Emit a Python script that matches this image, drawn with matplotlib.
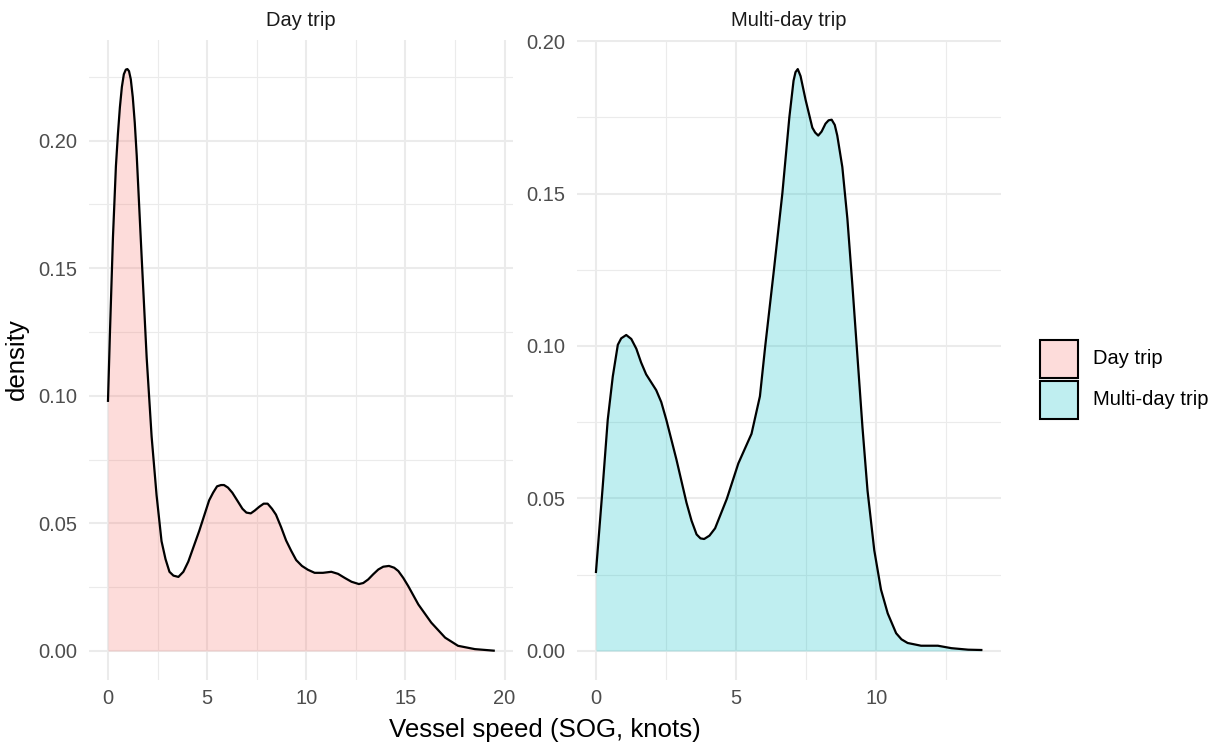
import matplotlib
matplotlib.use("Agg")
import matplotlib.pyplot as plt
from matplotlib.patches import Rectangle

plt.rcParams['font.family'] = ['Liberation Sans', 'DejaVu Sans']

# Data: density curves
day_x = [0, 0.1, 0.25, 0.4, 0.5, 0.6, 0.7, 0.8, 0.9, 0.98, 1.06, 1.15, 1.25, 1.35,
         1.45, 1.7, 1.95, 2.2, 2.45, 2.7, 2.9, 3.1, 3.3, 3.55, 3.8, 4.05, 4.6,
         5.1, 5.3, 5.5, 5.7, 5.85, 6.05, 6.27, 6.53, 6.78, 6.98, 7.2, 7.4, 7.63,
         7.85, 8.05, 8.27, 8.47, 8.73, 8.98, 9.24, 9.49, 9.78, 10.08, 10.42,
         10.84, 11.26, 11.6, 11.94, 12.28, 12.65, 12.87, 13.12, 13.37, 13.63,
         13.88, 14.17, 14.43, 14.64, 14.89, 15.14, 15.65, 16.3, 17.0, 17.65,
         18.5, 19.45]
day_y = [0.098, 0.125, 0.162, 0.190, 0.2025, 0.213, 0.221, 0.226, 0.2278, 0.228,
         0.2272, 0.224, 0.217, 0.207, 0.194, 0.154, 0.115, 0.084, 0.061, 0.043,
         0.036, 0.031, 0.0295, 0.029, 0.031, 0.035, 0.047, 0.059, 0.062, 0.0645,
         0.065, 0.065, 0.064, 0.062, 0.0588, 0.0557, 0.0542, 0.0539, 0.055,
         0.0565, 0.0577, 0.0577, 0.0557, 0.0534, 0.0485, 0.0433, 0.0392, 0.0356,
         0.0333, 0.0318, 0.0306, 0.0306, 0.031, 0.0302, 0.0286, 0.0271, 0.0262,
         0.0266, 0.028, 0.030, 0.0319, 0.033, 0.0333, 0.0326, 0.0313, 0.0286,
         0.0254, 0.0182, 0.0111, 0.0052, 0.002, 0.0007, 0.0001]

multi_x = [0, 0.24, 0.42, 0.6, 0.78, 0.9, 1.08, 1.26, 1.44, 1.61, 1.79, 1.97,
           2.15, 2.33, 2.51, 2.69, 2.87, 3.05, 3.23, 3.41, 3.59, 3.73, 3.86, 4.05,
           4.25, 4.67, 5.08, 5.55, 5.85, 6.04, 6.35, 6.65, 6.9, 7.05, 7.12, 7.2,
           7.3, 7.48, 7.72, 7.82, 7.93, 8.05, 8.19, 8.3, 8.41, 8.52, 8.61, 8.79,
           8.97, 9.15, 9.33, 9.51, 9.69, 9.93, 10.17, 10.41, 10.71, 10.9, 11.12,
           11.6, 12.2, 12.68, 13.28, 13.75]
multi_y = [0.0259, 0.0538, 0.0758, 0.090, 0.1004, 0.1025, 0.1036, 0.1023, 0.0991,
           0.0946, 0.0907, 0.0881, 0.0855, 0.0816, 0.0758, 0.0693, 0.0628, 0.0557,
           0.0486, 0.0427, 0.0382, 0.0369, 0.0367, 0.0378, 0.0402, 0.0499, 0.0615,
           0.0712, 0.0835, 0.100, 0.125, 0.150, 0.175, 0.187, 0.1898, 0.1908,
           0.1885, 0.1807, 0.1716, 0.1700, 0.169, 0.1703, 0.1729, 0.1740, 0.1742,
           0.1725, 0.169, 0.1587, 0.1418, 0.1198, 0.0965, 0.0732, 0.0525, 0.033,
           0.0201, 0.0123, 0.0058, 0.0038, 0.0026, 0.0017, 0.0017, 0.0009, 0.0004,
           0.0003]

groups = ['Day trip', 'Multi-day trip']
colors = ['#F8766D', '#00BFC4']
xticks = [[0, 5, 10, 15, 20], [0, 5, 10]]
yticks = [0.00, 0.05, 0.10, 0.15, 0.20]

W, H = 1225, 742
fig = plt.figure(figsize=(W / 100, H / 100), dpi=100)


def px_axes(x0, y0, x1, y1):
    return fig.add_axes([x0 / W, 1 - y1 / H, (x1 - x0) / W, (y1 - y0) / H])


panels = [(88.7, 40, 513, 680), (576.7, 40, 1000.6, 680)]
data = [(day_x, day_y), (multi_x, multi_y)]

for i, (xs, ys) in enumerate(data):
    ax = px_axes(*panels[i])
    ax.fill_between(xs, ys, 0, color=colors[i], alpha=0.25, linewidth=0, zorder=2)
    ax.plot(xs, ys, color='black', linewidth=1.6, solid_joinstyle='round', zorder=3)

    ax.set_xticks(xticks[i])
    ax.set_xticks([t + 2.5 for t in xticks[i]], minor=True)
    ax.set_yticks(yticks)
    ax.set_yticklabels(['%.2f' % v for v in yticks])
    ax.set_yticks([v + 0.025 for v in yticks], minor=True)

    # ggplot-like 5% expansion, set after ticks so they don't widen the view
    xr = max(xs) - min(xs)
    ax.set_xlim(min(xs) - 0.05 * xr, max(xs) + 0.05 * xr)
    ymax = max(ys)
    ax.set_ylim(-0.05 * ymax, 1.05 * ymax)

    ax.grid(True, which='major', color='#EBEBEB', linewidth=1.5, zorder=0)
    ax.grid(True, which='minor', color='#EBEBEB', linewidth=0.8, zorder=0)
    ax.set_axisbelow(True)
    for s in ax.spines.values():
        s.set_visible(False)
    ax.tick_params(which='both', length=0, labelsize=14.5, colors='#4D4D4D')
    ax.tick_params(axis='y', pad=8.5)
    ax.tick_params(axis='x', pad=6.5)

    cx = (panels[i][0] + panels[i][2]) / 2
    fig.text(cx / W, 1 - 20 / H, groups[i], ha='center', va='center',
             fontsize=14.5, color='#1A1A1A')

# Axis titles
fig.text(17 / W, 1 - 359 / H, 'density', rotation=90, ha='center', va='center',
         fontsize=18.6)
fig.text(545 / W, 1 - 737 / H, 'Vessel speed (SOG, knots)', ha='center',
         va='baseline', fontsize=18.6)

# Legend
for i, g in enumerate(groups):
    top = 340 + i * 41
    fig.patches.append(Rectangle((1040 / W, 1 - (top + 38) / H), 38 / W, 38 / H,
                                 transform=fig.transFigure, facecolor=colors[i],
                                 alpha=0.25, edgecolor='none'))
    fig.patches.append(Rectangle((1040 / W, 1 - (top + 38) / H), 38 / W, 38 / H,
                                 transform=fig.transFigure, facecolor='none',
                                 edgecolor='black', linewidth=1.5))
    fig.text(1093 / W, 1 - (top + 19) / H, g, ha='left', va='center', fontsize=14.5)

fig.savefig('out.png', dpi=100)
